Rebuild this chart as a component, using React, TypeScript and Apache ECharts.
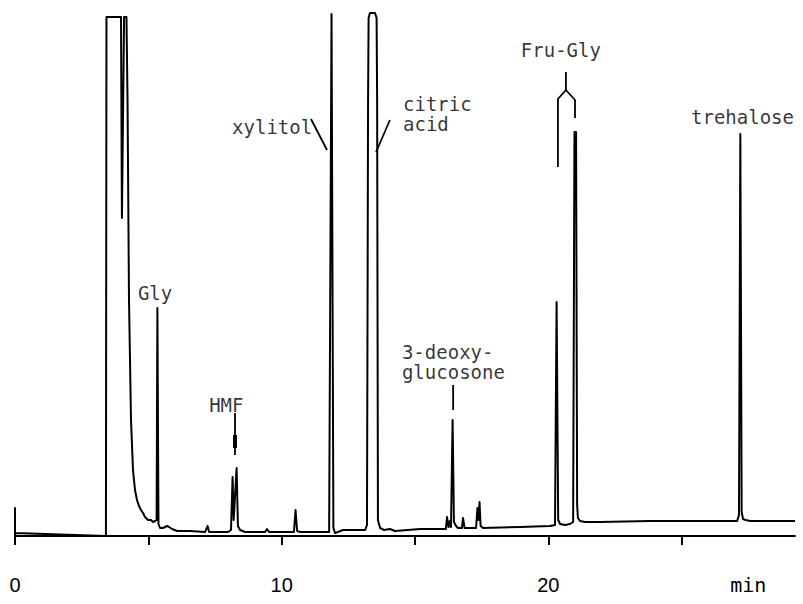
import React, { useEffect, useRef } from "react";
import * as echarts from "echarts";

// Retention time (min) and detector signal (arbitrary units)
const traceTime = [
  0, 0, 0, 3.41, 3.43, 3.975, 4.01, 4.09, 4.18, 4.22, 4.275, 4.35, 4.425, 4.5, 4.575, 4.65, 4.725, 4.8, 4.875,
  4.99, 5.1, 5.175, 5.25, 5.31, 5.34, 5.38, 5.44, 5.55, 5.7, 5.78, 5.89, 6.08, 6.56, 7.13, 7.22, 7.28, 7.99,
  8.1, 8.16, 8.2, 8.31, 8.36, 8.44, 8.63, 9.38, 9.45, 9.53, 10.46, 10.52, 10.58, 10.69, 11.78, 11.87, 11.94,
  12.0, 12.11, 12.3, 13.13, 13.2, 13.24, 13.26, 13.31, 13.5, 13.56, 13.58, 13.61, 13.69, 13.84, 14.06, 14.25,
  15.19, 16.16, 16.2, 16.26, 16.31, 16.35, 16.41, 16.46, 16.54, 16.61, 16.76, 16.8, 16.86, 17.29, 17.34,
  17.38, 17.42, 17.46, 17.55, 18.94, 20.06, 20.25, 20.31, 20.37, 20.44, 20.63, 20.81, 20.93, 20.98, 21.04,
  21.08, 21.11, 21.19, 21.38, 21.94, 23.81, 27.08, 27.15, 27.2, 27.25, 27.3, 27.4, 27.56, 29.25,
];
const traceSignal = [
  -7, 28, 3, 0, 519, 519, 318, 519, 519, 436, 236, 116, 66, 46, 36, 30, 26, 23, 19,
  16, 16, 14, 15, 16, 228, 12, 8, 8, 10, 9, 7, 5, 5, 4, 10, 4, 4,
  6, 59, 16, 68, 10, 6, 4, 4, 7, 4, 4, 26, 5, 4, 4, 522, 8,
  3, 4, 6, 6, 11, 436, 518, 523, 523, 518, 436, 16, 8, 6, 7, 5,
  7, 7, 19, 9, 15, 9, 116, 14, 10, 8, 8, 18, 8, 8, 28,
  16, 34, 10, 8, 9, 10, 11, 234, 16, 12, 11, 12, 14, 404, 404,
  31, 18, 15, 14, 14, 15, 15, 21, 402, 24, 17, 16, 15, 15,
];

// Peak annotations: name, time of the text's left edge, signal level of the text's centre
const labelNames = ["Gly", "HMF", "xylitol", "citric\nacid", "3-deoxy-\nglucosone", "Fru-Gly", "trehalose"];
const labelTimes = [4.61, 7.28, 8.14, 14.55, 14.51, 18.97, 25.35];
const labelSignals = [243, 131, 409, 422, 174, 486, 419];

// Leader lines (time, signal) pairs
const leaderXylitol = [[11.1, 417], [11.7, 386]];
const leaderCitric = [[14.06, 416], [13.54, 384]];
const leaderHMF = [[8.25, 123], [8.25, 81]];
const leaderHMFArrow = [[8.25, 101], [8.25, 88]];
const leaderDeoxy = [[16.43, 151], [16.43, 126]];
const leaderFruGlyLeft = [[20.66, 464], [20.66, 446], [20.36, 437], [20.36, 369]];
const leaderFruGlyRight = [[20.66, 446], [21.0, 436], [21.0, 418]];

// Axis ticks and labels
const tickValues = [0, 5, 10, 15, 20, 25];
const labelValues = [0, 10, 20, 27.5];

export default function App() {
  const ref = useRef<HTMLDivElement>(null);
  useEffect(() => {
    if (!ref.current) return;
    const chart = echarts.init(ref.current, null, { renderer: "svg" });
    const ink = "#000";
    const leaderSeries = (data: number[][], width: number) => ({
      type: "line",
      data,
      showSymbol: false,
      silent: true,
      clip: false,
      lineStyle: { color: ink, width, join: "round", cap: "butt" },
      z: 3,
    });
    chart.setOption({
      animation: false,
      backgroundColor: "#fff",
      grid: { left: 15, right: 8, top: 10, bottom: 44, containLabel: false, outerBoundsMode: "none" },
      xAxis: {
        type: "value",
        min: 0,
        max: 29.25,
        interval: 5,
        splitLine: { show: false },
        axisLine: { show: true, lineStyle: { color: ink, width: 2 } },
        axisTick: { show: true, length: 9, customValues: tickValues, lineStyle: { color: ink, width: 2 } },
        axisLabel: {
          show: true,
          customValues: labelValues,
          margin: 15,
          color: ink,
          fontFamily: "Liberation Sans",
          fontSize: 20,
          formatter: (v: number) => (v === 27.5 ? "{m|min}" : String(v)),
          rich: { m: { fontFamily: "DejaVu Sans Mono", fontSize: 20, color: ink } },
        },
      },
      yAxis: { type: "value", min: -24, max: 526, show: false },
      series: [
        {
          type: "line",
          data: traceTime.map((t, i) => [t, traceSignal[i]]),
          showSymbol: false,
          silent: true,
          clip: false,
          lineStyle: { color: ink, width: 2, join: "round" },
          z: 4,
        },
        leaderSeries(leaderXylitol, 1.8),
        leaderSeries(leaderCitric, 1.8),
        leaderSeries(leaderHMF, 1.8),
        leaderSeries(leaderHMFArrow, 4),
        leaderSeries(leaderDeoxy, 1.8),
        leaderSeries(leaderFruGlyLeft, 1.8),
        leaderSeries(leaderFruGlyRight, 1.8),
        {
          type: "scatter",
          symbolSize: 0,
          silent: true,
          data: labelNames.map((n, i) => ({ name: n, value: [labelTimes[i], labelSignals[i]] })),
          label: {
            show: true,
            position: "inside",
            align: "left",
            verticalAlign: "middle",
            formatter: (p: any) => p.name,
            fontFamily: "DejaVu Sans Mono",
            fontSize: 19,
            lineHeight: 20,
            color: ink,
          },
          z: 5,
        },
      ],
    });
    return () => chart.dispose();
  }, []);
  return <div ref={ref} style={{ position: "absolute", left: 0, top: 0, width: 803, height: 604 }} />;
}
